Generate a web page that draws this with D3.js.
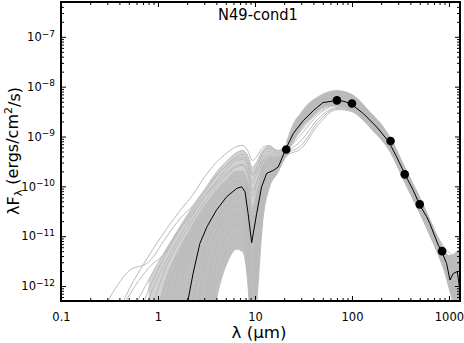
<!DOCTYPE html>
<html>
<head>
<meta charset="utf-8">
<script src="https://cdn.jsdelivr.net/npm/d3@7"></script>
<style>
  body { margin: 0; background: #fff; }
  svg { display: block; }
  text { font-family: "DejaVu Sans", sans-serif; fill: #000; }
</style>
</head>
<body>
<svg id="chart" width="464" height="343"></svg>
<script>
// wavelength grid of the grey model SEDs (micron)
var modelWave = [0.3, 0.5, 0.8, 1.2, 1.7, 2.3, 3.0, 4.0, 5.2, 6.5, 7.5, 8.5, 9.4, 10.5, 12, 14, 17, 21, 30, 45, 70, 100, 160, 250, 350, 500, 800, 1300];

// log10(lambda F_lambda) of the grey models
var modelL1  = [-13.08,-12.08,-11.40,-10.88,-10.48,-10.16,-9.82,-9.52,-9.32,-9.20,-9.18,-9.30,-9.48,-9.40,-9.22,-9.18,-9.28,-9.20,-8.52,-8.20,-8.08,-8.16,-8.56,-9.04,-9.62,-10.22,-11.08,-11.52];
var modelA   = [-12.32,-11.70,-11.52,-11.04,-10.64,-10.38,-10.08,-9.78,-9.58,-9.44,-9.42,-9.54,-9.78,-9.68,-9.48,-9.40,-9.44,-9.28,-8.78,-8.44,-8.30,-8.36,-8.74,-9.22,-9.82,-10.44,-11.32,-12.28];
var modelB   = [-13.08,-12.20,-11.64,-11.32,-10.84,-10.52,-10.22,-9.94,-9.72,-9.58,-9.56,-9.72,-10.08,-9.88,-9.58,-9.44,-9.42,-9.28,-8.64,-8.28,-8.14,-8.20,-8.60,-9.08,-9.66,-10.26,-11.12,-11.78];
var modelC   = [-13.88,-12.68,-11.88,-11.28,-10.80,-10.40,-10.08,-9.72,-9.48,-9.32,-9.28,-9.40,-9.62,-9.50,-9.28,-9.20,-9.28,-9.24,-8.60,-8.24,-8.12,-8.18,-8.58,-9.10,-9.70,-10.30,-11.16,-11.92];
var modelG1  = [-14,-13.08,-12.08,-11.36,-10.86,-10.46,-10.14,-9.80,-9.56,-9.40,-9.36,-9.50,-9.76,-9.60,-9.34,-9.24,-9.32,-9.24,-8.70,-8.32,-8.18,-8.24,-8.64,-9.12,-9.72,-10.34,-11.20,-12.12];
var modelG2  = [-14,-13.88,-12.28,-11.52,-10.98,-10.56,-10.22,-9.90,-9.64,-9.48,-9.46,-9.62,-9.94,-9.72,-9.42,-9.30,-9.36,-9.26,-8.62,-8.26,-8.14,-8.22,-8.62,-9.14,-9.78,-10.40,-11.28,-12.48];
var modelF1  = [-14,-14,-12.64,-11.64,-11.08,-10.66,-10.32,-10.00,-9.76,-9.60,-9.58,-9.78,-10.20,-9.92,-9.52,-9.36,-9.40,-9.28,-8.82,-8.48,-8.34,-8.40,-8.76,-9.24,-9.84,-10.46,-11.36,-12.64];
var modelF2  = [-14,-14,-13.18,-11.88,-11.22,-10.76,-10.40,-10.08,-9.84,-9.70,-9.70,-9.94,-10.42,-10.08,-9.62,-9.42,-9.44,-9.28,-8.56,-8.22,-8.10,-8.18,-8.60,-9.08,-9.68,-10.28,-11.14,-11.68];
var modelF3  = [-14,-14,-13.88,-12.24,-11.40,-10.88,-10.50,-10.16,-9.92,-9.80,-9.80,-10.08,-10.64,-10.22,-9.70,-9.48,-9.48,-9.30,-8.76,-8.40,-8.26,-8.32,-8.68,-9.20,-9.80,-10.42,-11.30,-12.20];
var modelF4  = [-14,-14,-14,-12.68,-11.64,-11.04,-10.62,-10.26,-10.02,-9.90,-9.90,-10.20,-10.84,-10.36,-9.78,-9.54,-9.52,-9.30,-8.66,-8.30,-8.18,-8.26,-8.66,-9.16,-9.76,-10.38,-11.24,-12.02];
var modelF5  = [-14,-14,-14,-13.18,-11.98,-11.22,-10.74,-10.36,-10.10,-9.98,-9.98,-10.32,-11.00,-10.44,-9.84,-9.60,-9.56,-9.30,-8.88,-8.52,-8.36,-8.42,-8.80,-9.28,-9.88,-10.50,-11.40,-12.28];
var modelF7  = [-14,-14,-14,-14,-13.88,-12.28,-11.28,-10.72,-10.38,-10.20,-10.24,-10.68,-11.52,-10.72,-10.00,-9.70,-9.60,-9.32,-8.68,-8.34,-8.22,-8.28,-8.66,-9.14,-9.72,-10.34,-11.18,-11.84];
var modelF8  = [-14,-14,-14,-14,-14,-12.98,-11.64,-10.92,-10.54,-10.38,-10.44,-10.92,-11.88,-10.98,-10.12,-9.76,-9.62,-9.32,-8.96,-8.56,-8.38,-8.44,-8.82,-9.30,-9.90,-10.52,-11.44,-12.58];
var modelF9  = [-14,-14,-14,-14,-14,-13.48,-12.32,-11.18,-10.74,-10.56,-10.64,-11.18,-12.28,-11.28,-10.24,-9.82,-9.64,-9.34,-8.84,-8.44,-8.28,-8.34,-8.72,-9.20,-9.80,-10.40,-11.26,-12.24];
var modelF10 = [-14,-14,-14,-14,-14,-14,-12.88,-11.52,-10.96,-10.76,-10.84,-11.44,-12.68,-11.58,-10.38,-9.88,-9.68,-9.36,-9.08,-8.64,-8.42,-8.46,-8.84,-9.32,-9.92,-10.54,-11.42,-12.38];
var modelF11 = [-14,-14,-14,-14,-14,-14,-13.48,-11.92,-11.22,-11.00,-11.08,-11.72,-13.08,-11.94,-10.52,-9.96,-9.70,-9.38,-9.18,-8.70,-8.44,-8.48,-8.84,-9.30,-9.88,-10.48,-11.34,-12.28];
var modelF12 = [-14,-14,-14,-14,-14,-14,-14,-12.28,-11.52,-11.26,-11.32,-12.02,-13.48,-12.28,-10.72,-10.04,-9.74,-9.40,-9.24,-8.76,-8.46,-8.50,-8.86,-9.32,-9.90,-10.50,-11.38,-12.18];

var greyModels = [modelL1, modelA, modelB, modelC, modelG1, modelG2, modelF1, modelF2, modelF3,
                  modelF4, modelF5, modelF7, modelF8, modelF9, modelF10, modelF11, modelF12];

// far-IR envelope where the grey models pile up into a solid band
var bandWave  = [21, 25, 30, 38, 45, 55, 70, 85, 100, 130, 160, 200, 250, 350, 500, 650, 800, 1000, 1300];
var bandUpper = [-9.10,-8.72,-8.52,-8.30,-8.20,-8.12,-8.08,-8.10,-8.16,-8.36,-8.54,-8.74,-9.02,-9.60,-10.22,-10.68,-11.08,-11.38,-11.24];
var bandLower = [-9.44,-9.08,-8.84,-8.64,-8.50,-8.40,-8.40,-8.44,-8.50,-8.68,-8.84,-9.04,-9.32,-9.90,-10.50,-10.98,-11.40,-12.08,-12.88];

// best fit model (black)
var fitWave    = [1.9, 2.3, 2.7, 3.2, 4.0, 5.1, 6.5, 7.3, 7.9, 8.5, 9.25, 10.4, 11.7, 13.2, 15.5, 17.4, 20.7, 24.8, 31.5, 40, 50, 68, 81, 97, 131, 180, 239, 289, 352, 428, 499, 589, 637, 776, 841, 946, 1024, 1107, 1218, 1297];
var fitLogFlux = [-12.6,-11.75,-11.15,-10.81,-10.48,-10.21,-10.04,-10.01,-10.11,-10.55,-11.13,-10.55,-10.01,-9.74,-9.68,-9.61,-9.26,-8.94,-8.68,-8.48,-8.32,-8.28,-8.29,-8.34,-8.54,-8.81,-9.10,-9.41,-9.76,-10.08,-10.37,-10.61,-10.75,-11.18,-11.30,-11.55,-11.88,-11.75,-11.71,-12.08];

// photometry (micron, ergs/cm2/s)
var photWave = [21, 70, 100, 250, 350, 500, 850];
var photFlux = [5.5e-10, 5.3e-9, 4.6e-9, 8.1e-10, 1.74e-10, 4.35e-11, 5.0e-12];

var xMajor = [0.1, 1, 10, 100, 1000];
var yMajor = [1e-12, 1e-11, 1e-10, 1e-9, 1e-8, 1e-7];

var GREY = '#bababa';
var LEFT = 61, RIGHT = 460, TOP = 2, BOTTOM = 301;

var svg = d3.select('#chart');

var x = d3.scaleLog().domain([0.1, 1300]).range([LEFT, RIGHT]);
var y = d3.scaleLog().domain([5e-13, 5e-7]).range([BOTTOM, TOP]);

// minor ticks 2..9 in every decade inside the domain
function minorTicks(scale) {
    var dom = scale.domain(), out = [];
    for (var e = Math.floor(Math.log10(dom[0])); e <= Math.ceil(Math.log10(dom[1])); e++) {
        for (var k = 2; k <= 9; k++) {
            var v = k * Math.pow(10, e);
            if (v >= dom[0] && v <= dom[1]) out.push(v);
        }
    }
    return out;
}

function pts(wave, logFlux) {
    return wave.map(function(w, i) { return {w: w, f: Math.pow(10, logFlux[i])}; });
}

// filled region between two models over part of the grid
function between(upper, lower, from, to) {
    return d3.range(from, to).map(function(i) {
        return {w: modelWave[i], hi: Math.pow(10, upper[i]), lo: Math.pow(10, lower[i])};
    });
}

// stretch a label along its baseline to the width it has in the plot
function fitWidth(sel, base, width) {
    var len = sel.node().getComputedTextLength();
    sel.attr('transform', base + ' scale(' + (width / len) + ',1)');
}

svg.append('defs').append('clipPath')
    .attr('id', 'plot-clip')
  .append('rect')
    .attr('x', LEFT).attr('y', TOP)
    .attr('width', RIGHT - LEFT).attr('height', BOTTOM - TOP);

var plot = svg.append('g').attr('clip-path', 'url(#plot-clip)');

var area = d3.area()
    .x(function(d) { return x(d.w); })
    .y0(function(d) { return y(d.lo); })
    .y1(function(d) { return y(d.hi); })
    .curve(d3.curveMonotoneX);

var line = d3.line()
    .x(function(d) { return x(d.w); })
    .y(function(d) { return y(d.f); });

// the fan of near/mid-IR models: lighter outer part, dense core
plot.append('path').attr('d', area(between(modelC, modelF2, 2, 18))).style('fill', '#d2d2d2');
plot.append('path').attr('d', area(between(modelF2, modelF12, 2, 18))).style('fill', '#bfbfbf');

var bandData = bandWave.map(function(w, i) {
    return {w: w, hi: Math.pow(10, bandUpper[i]), lo: Math.pow(10, bandLower[i])};
});
plot.append('path').attr('d', area(bandData)).style('fill', '#bebebe');

plot.selectAll('path.model')
    .data(greyModels)
    .enter()
    .append('path')
    .attr('class', 'model')
    .attr('d', function(m) { return line.curve(d3.curveMonotoneX)(pts(modelWave, m)); })
    .style('fill', 'none')
    .style('stroke', GREY)
    .style('stroke-width', 1);

// best fit
plot.append('path')
    .attr('d', line.curve(d3.curveLinear)(pts(fitWave, fitLogFlux)))
    .style('fill', 'none')
    .style('stroke', '#000')
    .style('stroke-width', 1);

plot.selectAll('circle')
    .data(photWave)
    .enter()
    .append('circle')
    .attr('cx', function(d) { return x(d); })
    .attr('cy', function(d, i) { return y(photFlux[i]); })
    .attr('r', 4.3)
    .style('fill', '#000');

// axes: ticks point inwards on all four sides
function styleAxis(g) {
    g.select('.domain').remove();
    g.selectAll('.tick line').style('stroke', '#000').style('stroke-width', 1);
    g.attr('font-family', null).attr('font-size', null);
}

var xMinor = minorTicks(x), yMinor = minorTicks(y);

[[d3.axisBottom, BOTTOM], [d3.axisTop, TOP]].forEach(function(a) {
    svg.append('g').attr('transform', 'translate(0,' + a[1] + ')')
        .call(a[0](x).tickValues(xMinor).tickSizeInner(-3).tickSizeOuter(0).tickFormat(''))
        .call(styleAxis);
    svg.append('g').attr('transform', 'translate(0,' + a[1] + ')')
        .call(a[0](x).tickValues(xMajor).tickSizeInner(-5).tickSizeOuter(0)
            .tickFormat(a[1] === BOTTOM ? d3.format('~g') : '').tickPadding(12))
        .call(styleAxis);
});
[[d3.axisLeft, LEFT], [d3.axisRight, RIGHT]].forEach(function(a) {
    svg.append('g').attr('transform', 'translate(' + a[1] + ',0)')
        .call(a[0](y).tickValues(yMinor).tickSizeInner(-3).tickSizeOuter(0).tickFormat(''))
        .call(styleAxis);
    svg.append('g').attr('class', a[1] === LEFT ? 'y-major' : null)
        .attr('transform', 'translate(' + a[1] + ',0)')
        .call(a[0](y).tickValues(yMajor).tickSizeInner(-5).tickSizeOuter(0).tickFormat('').tickPadding(6))
        .call(styleAxis);
});

svg.selectAll('.tick text').style('font-size', '11.5px');

// y labels as 10 with a superscript exponent
svg.select('.y-major').selectAll('.tick text')
    .each(function(d) {
        var t = d3.select(this);
        t.append('tspan').text('10');
        t.append('tspan')
            .attr('dy', '-0.5em')
            .style('font-size', '9px')
            .text('\u2212' + Math.abs(Math.round(Math.log10(d))));
    });

svg.append('rect')
    .attr('x', LEFT).attr('y', TOP)
    .attr('width', RIGHT - LEFT).attr('height', BOTTOM - TOP)
    .style('fill', 'none')
    .style('stroke', '#000')
    .style('stroke-width', 1.2)
    .attr('shape-rendering', 'crispEdges');

// titles
var title = svg.append('text')
    .attr('text-anchor', 'middle')
    .style('font-size', '15px')
    .text('N49-cond1');
fitWidth(title, 'translate(258,20)', 80);

var xl = svg.append('text')
    .attr('text-anchor', 'middle')
    .style('font-size', '16px')
    .text('\u03bb (\u03bcm)');
fitWidth(xl, 'translate(259,338)', 55);

var yl = svg.append('text')
    .attr('text-anchor', 'middle')
    .style('font-size', '16px');
yl.append('tspan').text('\u03bbF');
yl.append('tspan').attr('dy', '0.3em').style('font-size', '11px').text('\u03bb');
yl.append('tspan').attr('dy', '-0.3em').text(' (ergs/cm');
yl.append('tspan').attr('dy', '-0.5em').style('font-size', '11px').text('2');
yl.append('tspan').attr('dy', '0.5em').text('/s)');
fitWidth(yl, 'translate(19,151) rotate(-90)', 128);
</script>
</body>
</html>
